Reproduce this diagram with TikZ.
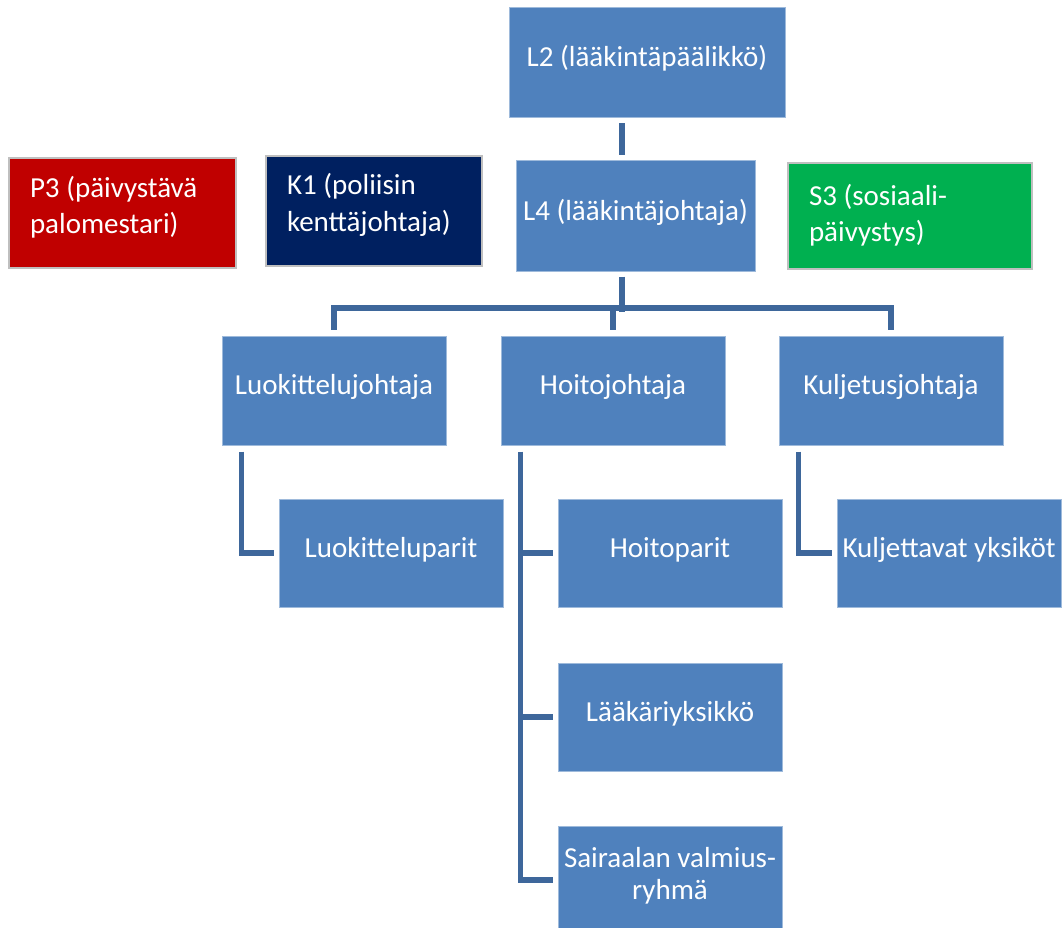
\documentclass[tikz,border=0pt]{standalone}
\usepackage{fontspec}
\setmainfont{Carlito}
\usetikzlibrary{calc}
\definecolor{boxblue}{HTML}{4F81BD}
\definecolor{connblue}{RGB}{62,103,155}
\definecolor{firered}{HTML}{C00000}
\definecolor{policenavy}{HTML}{002060}
\definecolor{socialgreen}{HTML}{00B050}
\definecolor{edgegray}{HTML}{BFBFBF}
\begin{document}
\begin{tikzpicture}[x=1pt,y=-1pt,
  orgbox/.style={fill=boxblue, draw=boxblue!55!white, line width=1pt, text=white,
    font=\fontsize{29}{36}\selectfont, inner sep=0pt, text height=20pt, text depth=12pt,
    minimum width=224pt, minimum height=108pt},
  sidebox/.style={draw=edgegray, line width=2pt, text=white,
    font=\fontsize{29}{36}\selectfont, align=flush left, inner xsep=21pt, inner ysep=0pt,
    text height=20pt, text depth=52pt},
  conn/.style={draw=connblue, line width=5.5pt}]
\useasboundingbox (0,0) rectangle (1062,928);

% top level
\node[orgbox, minimum width=276pt, minimum height=110pt] (L2) at (647,63) {L2 (lääkintäpäälikkö)};
\node[orgbox, minimum width=239pt, minimum height=110pt] (L4) at (635.5,216) {L4 (lääkintäjohtaja)};

% side boxes
\node[sidebox, fill=firered, text width=185pt, minimum height=110pt] (P3) at (122.5,213) {P3 (päivystävä\\palomestari)};
\node[sidebox, fill=policenavy, text width=174pt, minimum height=110pt] (K1) at (374,211) {K1 (poliisin\\kenttäjohtaja)};
\node[sidebox, fill=socialgreen, text width=202pt, minimum height=106pt, text depth=42pt] (S3) at (910,216) {S3 (sosiaali-\\päivystys)};

% second level
\node[orgbox, minimum height=109pt] (LJ) at (334,390.5) {Luokittelujohtaja};
\node[orgbox, minimum height=109pt] (HJ) at (613,390.5) {Hoitojohtaja};
\node[orgbox, minimum height=109pt] (KJ) at (891,390.5) {Kuljetusjohtaja};

% third level
\node[orgbox] (LP) at (391,553) {Luokitteluparit};
\node[orgbox] (HP) at (670,553) {Hoitoparit};
\node[orgbox] (KY) at (949,553) {Kuljettavat yksiköt};
\node[orgbox] (LY) at (670,717) {Lääkäriyksikkö};
\node[orgbox, text width=224pt, align=flush center, font=\fontsize{29}{32}\selectfont, text depth=46pt] (SR) at (670,880) {Sairaalan valmius-\\ryhmä};

% connectors
\draw[conn] ($(L2.south -| L4.north)+(-13.5,5)$) -- ($(L4.north)+(-13.5,-5)$);
\draw[conn] ($(L4.south)+(-13.5,5)$) -- ($(L4.south)+(-13.5,40)$);
\draw[conn] ($(LJ.north)+(0,-6)$) |- ($(KJ.north)+(0,-27.5)$) -- ($(KJ.north)+(0,-6)$);
\draw[conn] ($(HJ.north)+(0,-6)$) -- ($(HJ.north)+(0,-30)$);

\draw[conn] ($(LJ.south west)+(20,6)$) |- ($(LP.west)+(-5,0)$);
\draw[conn] ($(HJ.south west)+(20,6)$) |- ($(SR.west)+(-5,0)$);
\draw[conn] ($(HP.west -| HJ.south west)+(18,0)$) -- ($(HP.west)+(-5,0)$);
\draw[conn] ($(LY.west -| HJ.south west)+(18,0)$) -- ($(LY.west)+(-5,0)$);
\draw[conn] ($(KJ.south west)+(20,6)$) |- ($(KY.west)+(-5,0)$);
\end{tikzpicture}
\end{document}
